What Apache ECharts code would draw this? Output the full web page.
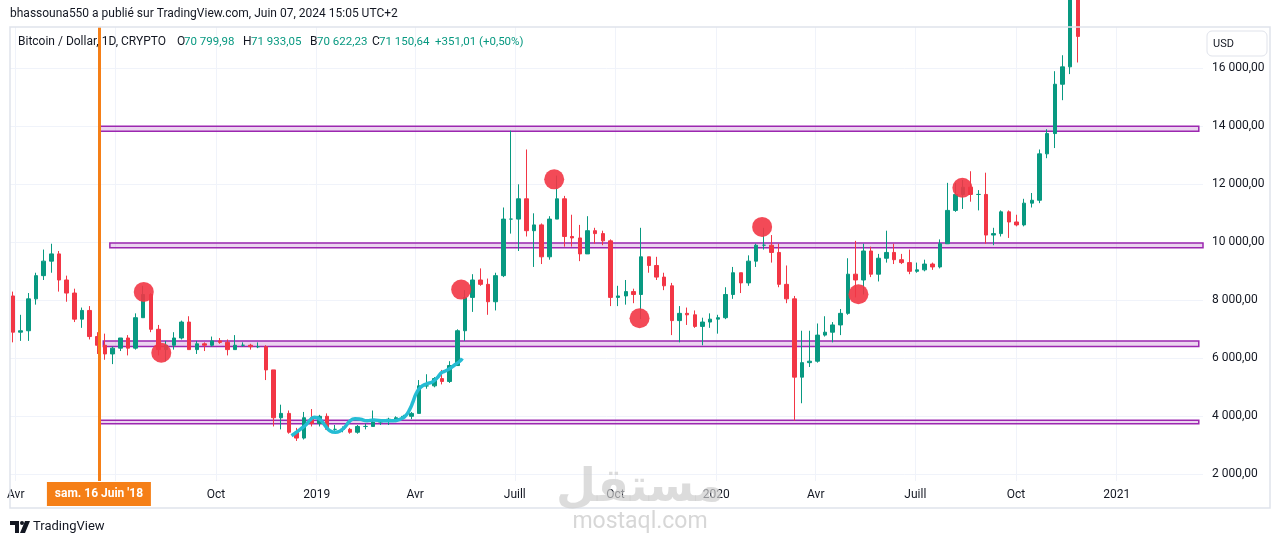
<!DOCTYPE html>
<html>
<head>
<meta charset="utf-8">
<script src="https://cdn.jsdelivr.net/npm/echarts@6/dist/echarts.min.js"></script>
<style>
html, body { margin: 0; padding: 0; background: #fff; }
#chart { width: 1281px; height: 545px; }
</style>
</head>
<body>
<div id="chart"></div>
<script>
// BTC/USD, one candle per week (Mon 26 Mar 2018 .. Mon 23 Nov 2020), open = previous close
const firstWeek = '2018-03-26';
const firstOpen = 8150;
const closes = [
    6900, 6950, 8050, 8850, 9350, 9600, 8700, 8250, 7350, 7650,
    6750, 6450, 6150, 6350, 6700, 6350, 7400, 8200, 7000, 6300,
    6450, 6700, 7250, 6300, 6500, 6450, 6600, 6550, 6300, 6450,
    6450, 6400, 6400, 5600, 3950, 4100, 3450, 3250, 3950, 3750,
    4000, 3550, 3550, 3550, 3450, 3650, 3650, 3800, 3850, 3900,
    3950, 4000, 4100, 5050, 5050, 5300, 5200, 5750, 6950, 8100,
    8700, 8550, 7950, 8850, 10800, 10800, 11500, 10400, 10600, 9500,
    10800, 11500, 10200, 10150, 9600, 10400, 10300, 10050, 8100, 8150,
    8300, 8200, 9500, 9200, 8800, 8500, 7300, 7550, 7500, 7100,
    7250, 7350, 7400, 8200, 8950, 8600, 9350, 9900, 9900, 9650,
    8550, 8050, 5350, 5850, 5900, 6800, 6900, 7150, 7550, 8900,
    8700, 9700, 8900, 9450, 9650, 9400, 9300, 9000, 9050, 9250,
    9150, 9950, 11100, 11650, 11900, 11650, 11650, 10250, 10300, 11050,
    10700, 10600, 11350, 11450, 13050, 13750, 15450, 16050, 18400, 17100
];
const highs = [
    8300, 7500, 8250, 8950, 9750, 9950, 9700, 8850, 8400, 7750,
    7800, 6900, 6850, 6400, 6700, 6800, 7550, 8500, 8250, 7150,
    6600, 6900, 7300, 7450, 6600, 6550, 6750, 6700, 6650, 6800,
    6550, 6500, 6550, 6450, 5600, 4400, 4200, 3600, 4150, 4250,
    4050, 4100, 3700, 3650, 3600, 3700, 3750, 4200, 3900, 3950,
    4000, 4050, 4150, 5250, 5450, 5350, 5600, 5900, 7000, 8350,
    8900, 9100, 8750, 8950, 11200, 13850, 12000, 13200, 11000, 10650,
    10900, 12300, 11600, 10950, 10600, 10900, 10500, 10400, 10100, 8500,
    8700, 8400, 10500, 9500, 9500, 8950, 8600, 7800, 7750, 7650,
    7400, 7550, 7500, 8450, 9150, 8950, 9550, 9950, 10500, 10250,
    9950, 9200, 8150, 6950, 6950, 7200, 7450, 7250, 7700, 9450,
    10050, 9950, 9850, 9600, 10400, 9950, 9600, 9750, 9300, 9400,
    9300, 10100, 12050, 12050, 12150, 12450, 11800, 12400, 10500, 11100,
    11100, 10950, 11500, 11700, 13200, 13900, 15900, 16450, 18800, 19400
];
const lows = [
    6550, 6600, 6600, 7850, 8700, 8950, 8300, 7950, 7250, 7050,
    6650, 6150, 5950, 5800, 6250, 6100, 6300, 7400, 6900, 6100,
    5900, 6300, 6650, 6300, 6150, 6250, 6400, 6500, 6100, 6300,
    6400, 6300, 6350, 5250, 3650, 3550, 3400, 3150, 3200, 3650,
    3650, 3550, 3500, 3450, 3400, 3400, 3550, 3650, 3700, 3700,
    3800, 3900, 3900, 4100, 4950, 5000, 5100, 5150, 5750, 6600,
    7600, 8500, 7500, 7650, 8800, 10300, 9700, 10200, 9150, 9250,
    9400, 10800, 9850, 9850, 9350, 9600, 9950, 9900, 7800, 7800,
    7850, 7900, 7350, 8950, 8700, 8350, 6800, 6550, 7150, 7050,
    6450, 7050, 6850, 7350, 8050, 8250, 8500, 9150, 9750, 9300,
    8450, 7900, 3850, 4450, 5700, 5850, 6750, 6550, 6800, 7500,
    8100, 8200, 8800, 8650, 9300, 9250, 9250, 8900, 8950, 9000,
    9050, 9100, 9950, 11050, 11150, 11400, 11100, 9950, 9900, 10200,
    10150, 10550, 10550, 11200, 11350, 12900, 13250, 14900, 15800, 16200
];

// support / resistance zones
const zoneStart = ['2018-06-16', '2018-06-26', '2018-06-20', '2018-06-16'];
const zoneEnd = ['2021-03-17', '2021-03-21', '2021-03-17', '2021-03-17'];
const zoneLow = [13830, 9810, 6410, 3745];
const zoneHigh = [14000, 9975, 6600, 3860];

// red dots
const dotDates = ['2018-07-27', '2018-08-12', '2019-05-13', '2019-08-06', '2019-10-23', '2020-02-12', '2020-05-10', '2020-08-13'];
const dotValues = [8290, 6190, 8370, 12170, 7380, 10530, 8210, 11880];

// hand drawn cyan curve
const curveDates = [
    '2018-12-09', '2018-12-17', '2018-12-22', '2018-12-26', '2018-12-30', '2019-01-04', '2019-01-09',
    '2019-01-13', '2019-01-18', '2019-01-22', '2019-01-27', '2019-01-31', '2019-02-05', '2019-02-10',
    '2019-02-16', '2019-02-22', '2019-03-03', '2019-03-12', '2019-03-18', '2019-03-23', '2019-03-27',
    '2019-03-30', '2019-04-02', '2019-04-06', '2019-04-11', '2019-04-17', '2019-04-22', '2019-04-25',
    '2019-04-28', '2019-05-03', '2019-05-07', '2019-05-12', '2019-05-14'
];
const curveValues = [
    3330, 3552, 3700, 3872, 3966, 3897, 3666,
    3503, 3448, 3483, 3641, 3828, 3917, 3897,
    3848, 3872, 3848, 3848, 3897, 4010, 4241,
    4503, 4793, 5000, 5114, 5193, 5366, 5503,
    5552, 5655, 5769, 5907, 6000
];

// axes
const xTickDates = ['2018-04-01', '2018-07-01', '2018-10-01', '2019-01-01', '2019-04-01', '2019-07-01',
    '2019-10-01', '2020-01-01', '2020-04-01', '2020-07-01', '2020-10-01', '2021-01-01'];
const xTickLabels = ['Avr', 'Juill', 'Oct', '2019', 'Avr', 'Juill', 'Oct', '2020', 'Avr', 'Juill', 'Oct', '2021'];
const yTicks = [2000, 4000, 6000, 8000, 10000, 12000, 14000, 16000];

const cursorDate = '2018-06-16';
const cursorLabel = "sam. 16 Juin '18";

const DAY = 864e5;
const ts = s => Date.parse(s + 'T00:00:00Z');
const font = 'Roboto, "Liberation Sans", sans-serif';
const up = '#089981';
const down = '#f23645';
const ink = '#131722';

const candles = closes.map((c, i) => {
    const t = ts(firstWeek) + i * 7 * DAY + 3.5 * DAY;
    const o = i === 0 ? firstOpen : closes[i - 1];
    return [t, o, c, lows[i], highs[i]];
});
const xTicks = xTickDates.map(ts);

const option = {
    animation: false,
    backgroundColor: '#fff',
    textStyle: { fontFamily: font },
    grid: { left: 10, right: 78, top: 27, bottom: 64, containLabel: false },
    xAxis: {
        // timestamps on a value axis so that tick positions can be given directly
        type: 'value',
        min: ts('2019-01-01') - 280.24 * DAY,
        max: ts('2019-01-01') + 809.85 * DAY,
        axisLine: { show: false },
        axisTick: { show: false, customValues: xTicks },
        axisLabel: {
            customValues: xTicks,
            color: ink,
            fontSize: 12,
            margin: 8,
            formatter: v => xTickLabels[xTicks.indexOf(v)] || ''
        },
        splitLine: { show: true, lineStyle: { color: '#f0f3fa', width: 1 } }
    },
    yAxis: {
        type: 'value',
        position: 'right',
        min: 1769,
        max: 17424,
        axisLine: { show: false },
        axisTick: { show: false, customValues: yTicks },
        axisLabel: {
            customValues: yTicks,
            color: ink,
            fontSize: 12,
            margin: 9,
            formatter: v => Math.round(v / 1000) + ' 000,00'
        },
        splitLine: { show: true, lineStyle: { color: '#f0f3fa', width: 1 } }
    },
    series: [{
        name: 'Bitcoin / Dollar',
        type: 'candlestick',
        data: candles,
        encode: { x: 0, y: [1, 2, 3, 4] },
        barMaxWidth: 4,
        clip: true,
        itemStyle: {
            color: up,
            color0: down,
            borderColor: up,
            borderColor0: down,
            borderWidth: 1
        },
        markArea: {
            silent: true,
            itemStyle: {
                color: 'rgba(156, 39, 176, 0.2)',
                borderColor: '#9c27b0',
                borderWidth: 1.5
            },
            data: zoneLow.map((lo, i) => [
                { xAxis: ts(zoneStart[i]), yAxis: lo },
                { xAxis: ts(zoneEnd[i]), yAxis: zoneHigh[i] }
            ])
        },
        markLine: {
            silent: true,
            symbol: ['none', 'none'],
            label: { show: false },
            lineStyle: { color: '#f57f17', width: 3, type: 'solid' },
            data: [{ xAxis: ts(cursorDate) }]
        }
    }, {
        name: 'courbe',
        type: 'line',
        data: curveDates.map((d, i) => [ts(d), curveValues[i]]),
        smooth: 0.5,
        showSymbol: false,
        z: 3,
        lineStyle: { color: '#25bcd4', width: 3.5 }
    }, {
        name: 'points',
        type: 'scatter',
        data: dotDates.map((d, i) => [ts(d), dotValues[i]]),
        symbolSize: 20,
        z: 4,
        itemStyle: { color: '#f23645', opacity: 0.9 }
    }]
};

const chart = echarts.init(document.getElementById('chart'));
chart.setOption(option);

const cx = chart.convertToPixel({ xAxisIndex: 0 }, ts(cursorDate));

// legend row: [text, x, colour, size]
const legendParts = [
    ['Bitcoin / Dollar, 1D, CRYPTO', 18, ink, 12],
    ['O', 177, ink, 12], ['70 799,98', 184, up, 11.5],
    ['H', 243, ink, 12], ['71 933,05', 251, up, 11.5],
    ['B', 310, ink, 12], ['70 622,23', 317, up, 11.5],
    ['C', 372, ink, 12], ['71 150,64', 379, up, 11.5],
    ['+351,01 (+0,50%)', 435, up, 11.5]
];

chart.setOption({
    graphic: [
        {
            type: 'rect', z: 50, silent: true,
            shape: { x: 10, y: 27, width: 1260, height: 481 },
            style: { fill: 'none', stroke: '#e0e3eb', lineWidth: 1.5 }
        },
        {
            type: 'text', z: 50, x: 10, y: 14,
            style: { text: 'bhassouna550 a publié sur TradingView.com, Juin 07, 2024 15:05 UTC+2', fill: ink, font: '12px ' + font, textVerticalAlign: 'middle' }
        },
        ...legendParts.map(p => ({
            type: 'text', z: 50, x: p[1], y: 42,
            style: { text: p[0], fill: p[2], font: p[3] + 'px ' + font, textVerticalAlign: 'middle' }
        })),
        {
            type: 'rect', z: 50,
            shape: { x: 1207, y: 31, width: 60, height: 25, r: 5 },
            style: { fill: '#fff', stroke: '#e0e3eb', lineWidth: 1 }
        },
        {
            type: 'text', z: 51, x: 1213, y: 44,
            style: { text: 'USD', fill: ink, font: '11px ' + font, textVerticalAlign: 'middle' }
        },
        {
            type: 'rect', z: 60,
            shape: { x: cx - 52, y: 482, width: 104, height: 24 },
            style: { fill: '#f57f17' }
        },
        {
            type: 'text', z: 61, x: cx, y: 494,
            style: { text: cursorLabel, fill: '#fff', font: 'bold 12px ' + font, textAlign: 'center', textVerticalAlign: 'middle' }
        },
        {
            type: 'text', z: 70, x: 640, y: 489,
            style: { text: 'مستقل', fill: 'rgba(205, 205, 205, 0.7)', font: 'bold 46px "DejaVu Sans", sans-serif', textAlign: 'center', textVerticalAlign: 'middle' }
        },
        {
            type: 'text', z: 70, x: 640, y: 522,
            style: { text: 'mostaql.com', fill: 'rgba(205, 205, 205, 0.8)', font: '23px ' + font, textAlign: 'center', textVerticalAlign: 'middle' }
        },
        {
            type: 'polygon', z: 50,
            shape: { points: [[10, 521], [19, 521], [19, 533], [15, 533], [15, 525], [10, 525]] },
            style: { fill: ink }
        },
        {
            type: 'circle', z: 50,
            shape: { cx: 22, cy: 523, r: 2 },
            style: { fill: ink }
        },
        {
            type: 'polygon', z: 50,
            shape: { points: [[25, 521], [30, 521], [25, 533], [20, 533]] },
            style: { fill: ink }
        },
        {
            type: 'text', z: 50, x: 33, y: 527,
            style: { text: 'TradingView', fill: ink, font: '13px ' + font, textVerticalAlign: 'middle' }
        }
    ]
});
</script>
</body>
</html>
